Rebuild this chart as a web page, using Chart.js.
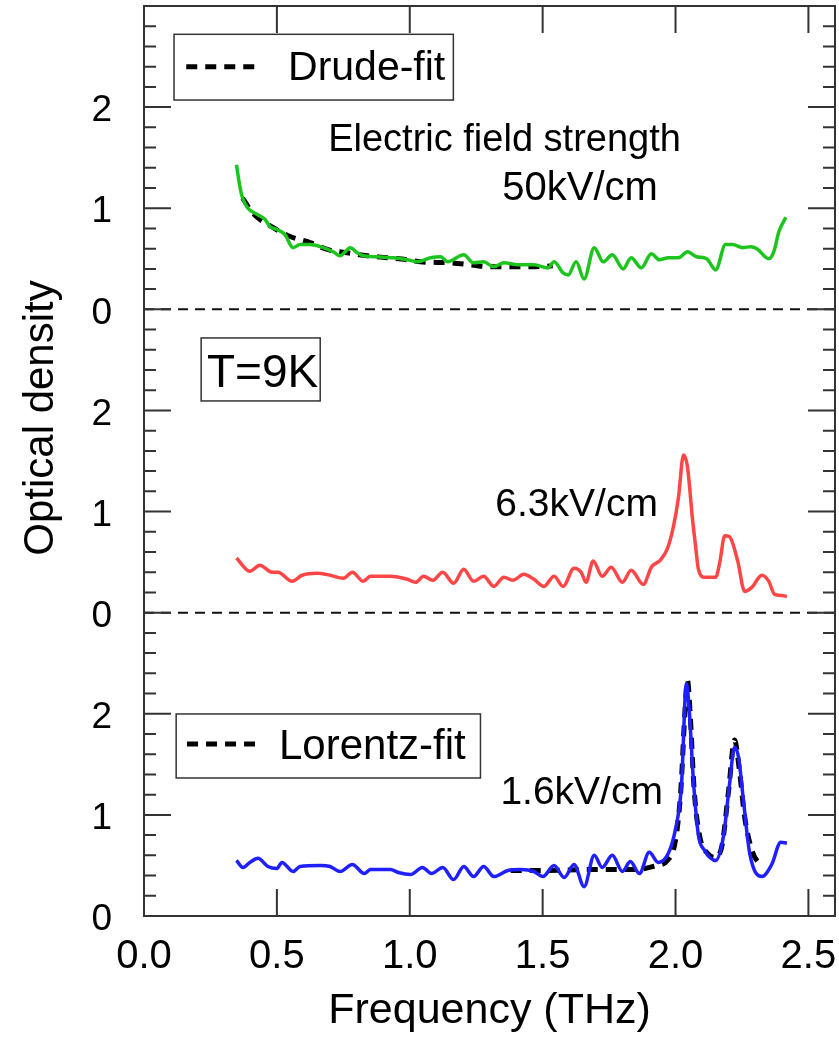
<!DOCTYPE html>
<html>
<head>
<meta charset="utf-8">
<script src="https://cdn.jsdelivr.net/npm/chart.js@4.4.1/dist/chart.umd.min.js"></script>
<style>
  html, body { margin: 0; padding: 0; background: #fff; }
  #odChart { display: block; }
</style>
</head>
<body>
<canvas id="odChart" width="839" height="1042"></canvas>
<script>
// Data: frequency (THz) vs optical density, one block per panel

// top panel, 50 kV/cm
const greenFreq = [0.348,0.361,0.371,0.391,0.425,0.455,0.474,0.500,0.530,0.561,0.587,0.625,0.663,0.712,0.738,0.776,0.802,0.825,0.878,0.938,0.991,1.029,1.078,1.116,1.142,1.203,1.240,1.278,1.316,1.354,1.407,1.467,1.520,1.543,1.577,1.596,1.626,1.656,1.694,1.728,1.762,1.803,1.833,1.871,1.909,1.939,1.973,2.011,2.045,2.079,2.117,2.151,2.188,2.215,2.253,2.283,2.306,2.351,2.370,2.389,2.415];
const greenOD   = [1.43,1.21,1.10,1.00,0.94,0.89,0.82,0.79,0.74,0.61,0.64,0.64,0.62,0.57,0.53,0.61,0.56,0.53,0.52,0.51,0.49,0.47,0.51,0.52,0.47,0.54,0.46,0.47,0.42,0.46,0.44,0.44,0.41,0.47,0.36,0.34,0.47,0.30,0.61,0.47,0.54,0.40,0.51,0.41,0.55,0.49,0.51,0.51,0.57,0.52,0.50,0.39,0.64,0.64,0.61,0.62,0.60,0.50,0.57,0.77,0.91];
const drudeFreq = [0.371,0.410,0.485,0.550,0.625,0.693,0.765,0.840,0.916,0.991,1.040,1.154,1.229,1.305,1.380,1.456,1.538];
const drudeOD   = [1.10,0.95,0.81,0.72,0.66,0.59,0.56,0.53,0.51,0.49,0.47,0.46,0.44,0.42,0.42,0.42,0.43];

// middle panel, 6.3 kV/cm
const redFreq = [0.348,0.398,0.436,0.481,0.504,0.557,0.595,0.651,0.700,0.750,0.784,0.825,0.852,0.927,0.991,1.022,1.052,1.086,1.124,1.165,1.203,1.240,1.278,1.316,1.354,1.388,1.429,1.467,1.505,1.543,1.577,1.618,1.645,1.663,1.690,1.724,1.758,1.800,1.833,1.879,1.909,1.943,1.969,1.992,2.011,2.030,2.045,2.064,2.075,2.086,2.109,2.151,2.166,2.185,2.203,2.234,2.260,2.287,2.325,2.351,2.373,2.400,2.419];
const redOD   = [0.54,0.41,0.47,0.40,0.40,0.31,0.37,0.39,0.37,0.34,0.40,0.31,0.36,0.36,0.33,0.30,0.36,0.32,0.40,0.29,0.43,0.31,0.36,0.26,0.35,0.32,0.38,0.33,0.26,0.36,0.26,0.44,0.40,0.30,0.51,0.36,0.45,0.30,0.42,0.28,0.45,0.52,0.63,0.85,1.14,1.56,1.44,0.92,0.67,0.43,0.35,0.35,0.49,0.76,0.75,0.51,0.21,0.25,0.37,0.31,0.18,0.17,0.16];

// bottom panel, 1.6 kV/cm
const blueFreq = [0.348,0.372,0.398,0.429,0.466,0.500,0.519,0.561,0.587,0.663,0.700,0.738,0.784,0.829,0.852,0.927,0.957,1.003,1.048,1.082,1.124,1.165,1.203,1.240,1.278,1.316,1.369,1.418,1.467,1.501,1.543,1.581,1.618,1.656,1.694,1.724,1.762,1.800,1.830,1.864,1.901,1.935,1.973,1.999,2.022,2.041,2.052,2.067,2.086,2.109,2.151,2.181,2.203,2.222,2.237,2.256,2.279,2.325,2.362,2.396,2.419];
const blueOD   = [0.55,0.48,0.53,0.57,0.49,0.47,0.53,0.44,0.49,0.50,0.49,0.44,0.51,0.42,0.46,0.46,0.43,0.41,0.48,0.42,0.48,0.36,0.49,0.39,0.49,0.39,0.45,0.46,0.44,0.39,0.50,0.38,0.51,0.29,0.60,0.48,0.60,0.44,0.54,0.42,0.63,0.53,0.62,0.85,1.28,2.30,2.02,1.35,0.80,0.65,0.55,0.80,1.30,1.67,1.57,1.13,0.62,0.39,0.51,0.73,0.72];
const lorentzFreq = [1.380,1.500,1.700,1.850,1.930,1.970,2.000,2.020,2.035,2.045,2.055,2.070,2.090,2.120,2.150,2.175,2.200,2.222,2.240,2.260,2.290,2.320];
const lorentzOD   = [0.45,0.45,0.46,0.46,0.50,0.55,0.75,1.25,2.00,2.33,2.00,1.25,0.80,0.62,0.58,0.70,1.25,1.74,1.45,0.98,0.63,0.50];

// axis tick labels (each panel restarts at 0)
const yTickLabels = ['0', '1', '2'];
const xTickLabels = ['0.0', '0.5', '1.0', '1.5', '2.0', '2.5'];

// panels are stacked on one axis, 3 units each
const PANEL = 3;
const shift = { top: 2 * PANEL, middle: PANEL, bottom: 0 };

const FONT = "'Liberation Sans', Arial, sans-serif";

function pts(freq, od, off) {
  return freq.map((f, i) => ({ x: f, y: od[i] + off }));
}

// frame, inward ticks, panel separators, legends and labels
const decor = {
  id: 'decor',
  beforeDatasetsDraw(chart) {
    const { ctx, chartArea: a, scales: { y } } = chart;
    ctx.save();
    ctx.strokeStyle = '#111';
    ctx.lineWidth = 2;
    ctx.setLineDash([10, 7]);
    [shift.middle, shift.top].forEach(v => {
      const py = y.getPixelForValue(v);
      ctx.beginPath();
      ctx.moveTo(a.left, py);
      ctx.lineTo(a.right, py);
      ctx.stroke();
    });
    ctx.restore();
  },
  afterDatasetsDraw(chart) {
    const { ctx, chartArea: a, scales: { x, y } } = chart;
    ctx.save();
    ctx.strokeStyle = '#333';
    ctx.lineWidth = 2;
    ctx.strokeRect(a.left, a.top, a.right - a.left, a.bottom - a.top);

    // y ticks every 0.2, long ones on whole numbers
    ctx.beginPath();
    for (let i = 1; i < 45; i++) {
      const py = y.getPixelForValue(i * 0.2);
      const len = i % 5 === 0 ? 27 : 12;
      ctx.moveTo(a.left, py); ctx.lineTo(a.left + len, py);
      ctx.moveTo(a.right, py); ctx.lineTo(a.right - len, py);
    }
    for (let i = 1; i <= 5; i++) {
      const px = x.getPixelForValue(i * 0.5);
      ctx.moveTo(px, a.bottom); ctx.lineTo(px, a.bottom - 27);
      ctx.moveTo(px, a.top); ctx.lineTo(px, a.top + 27);
    }
    ctx.stroke();

    const X = v => x.getPixelForValue(v);
    const Y = v => y.getPixelForValue(v);

    // boxed legends
    function box(x0, y0, x1, y1) {
      ctx.save();
      ctx.setLineDash([]);
      ctx.lineWidth = 1.5;
      ctx.strokeStyle = '#333';
      ctx.fillStyle = '#fff';
      ctx.fillRect(X(x0), Y(y0), X(x1) - X(x0), Y(y1) - Y(y0));
      ctx.strokeRect(X(x0), Y(y0), X(x1) - X(x0), Y(y1) - Y(y0));
      ctx.restore();
    }
    function sample(x0, x1, yv) {
      ctx.save();
      ctx.strokeStyle = '#000';
      ctx.lineWidth = 5;
      ctx.setLineDash([11, 8]);
      ctx.beginPath();
      ctx.moveTo(X(x0), Y(yv));
      ctx.lineTo(X(x1), Y(yv));
      ctx.stroke();
      ctx.restore();
    }
    function text(str, xv, yv, size) {
      ctx.font = size + 'px ' + FONT;
      ctx.fillStyle = '#000';
      ctx.textAlign = 'left';
      ctx.textBaseline = 'alphabetic';
      ctx.fillText(str, X(xv), Y(yv));
    }

    box(0.113, 8.72, 1.164, 8.07);
    sample(0.159, 0.43, 8.40);
    text('Drude-fit', 0.542, 8.268, 41);

    box(0.215, 5.717, 0.663, 5.094);
    text('T=9K', 0.237, 5.232, 46);

    box(0.121, 1.998, 1.266, 1.365);
    sample(0.162, 0.437, 1.70);
    text('Lorentz-fit', 0.508, 1.553, 42);

    text('Electric field strength', 0.693, 7.566, 38);
    text('50kV/cm', 1.348, 7.077, 40);
    text('6.3kV/cm', 1.322, 3.956, 39);
    text('1.6kV/cm', 1.341, 1.108, 39);

    // y axis title
    ctx.save();
    ctx.translate(53, 418);
    ctx.rotate(-Math.PI / 2);
    ctx.font = '42px ' + FONT;
    ctx.fillStyle = '#000';
    ctx.textAlign = 'center';
    ctx.textBaseline = 'alphabetic';
    ctx.fillText('Optical density', 0, 0);
    ctx.restore();

    ctx.restore();
  }
};

const curve = (data, color) => ({
  data, borderColor: color, borderWidth: 3.5, pointRadius: 0,
  cubicInterpolationMode: 'monotone', fill: false
});
const fit = (data) => ({
  data, borderColor: '#000', borderWidth: 5, borderDash: [11, 8], pointRadius: 0,
  cubicInterpolationMode: 'monotone', fill: false
});

new Chart(document.getElementById('odChart'), {
  type: 'line',
  data: {
    datasets: [
      curve(pts(greenFreq, greenOD, shift.top), '#1ec41e'),
      fit(pts(drudeFreq, drudeOD, shift.top)),
      curve(pts(redFreq, redOD, shift.middle), '#ff4646'),
      curve(pts(blueFreq, blueOD, shift.bottom), '#1f1fff'),
      fit(pts(lorentzFreq, lorentzOD, shift.bottom))
    ]
  },
  options: {
    responsive: false,
    animation: false,
    devicePixelRatio: 1,
    layout: { padding: { top: 6, right: 4, left: 0, bottom: 0 } },
    plugins: { legend: { display: false }, tooltip: { enabled: false } },
    scales: {
      x: {
        type: 'linear', min: 0, max: 2.6,
        grid: { display: false, drawTicks: false },
        border: { display: false },
        ticks: {
          stepSize: 0.5, includeBounds: false, autoSkip: false, maxRotation: 0,
          padding: 17, color: '#000', font: { family: FONT, size: 40 },
          callback: v => xTickLabels[Math.round(v / 0.5)]
        },
        title: {
          display: true, text: 'Frequency (THz)', color: '#000',
          font: { family: FONT, size: 43 }, padding: { top: 0, bottom: 5 }
        },
        afterFit(s) { s.height = 126; s.paddingLeft = 0; s.paddingRight = 0; }
      },
      y: {
        type: 'linear', min: 0, max: 3 * PANEL,
        grid: { display: false, drawTicks: false },
        border: { display: false },
        ticks: {
          stepSize: 1, autoSkip: false, padding: 32, labelOffset: 4,
          color: '#000', font: { family: FONT, size: 37 },
          callback: v => v >= 3 * PANEL ? null : yTickLabels[v % PANEL]
        },
        afterFit(s) { s.width = 144; s.paddingTop = 0; s.paddingBottom = 0; }
      }
    }
  },
  plugins: [decor]
});
</script>
</body>
</html>
